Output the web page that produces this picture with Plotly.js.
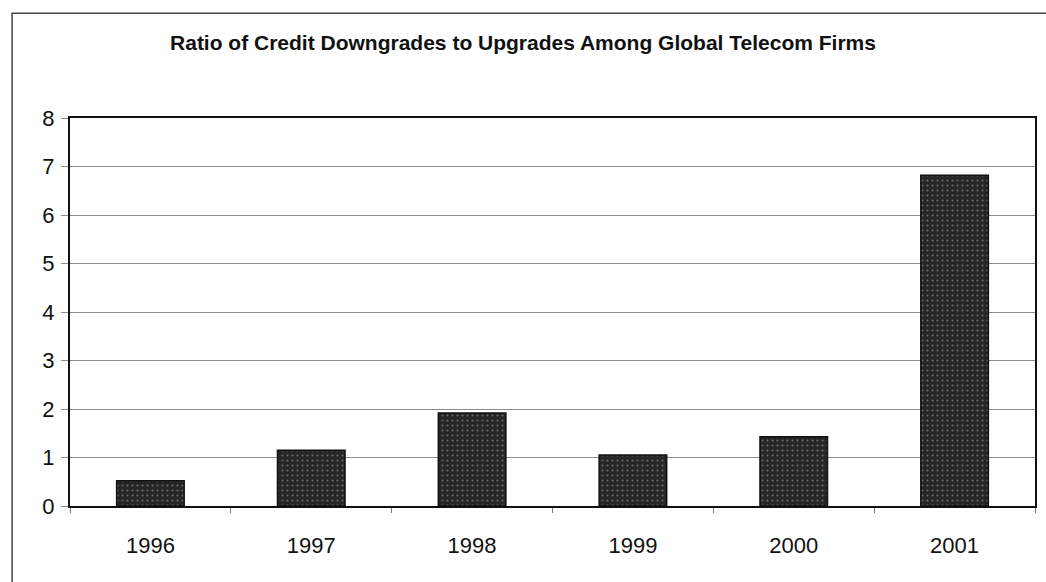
<!DOCTYPE html>
<html>
<head>
<meta charset="utf-8">
<script src="https://cdn.plot.ly/plotly-3.0.1.min.js"></script>
<style>
  html, body { margin: 0; padding: 0; background: #ffffff; }
  #chart { width: 1046px; height: 582px; }
</style>
</head>
<body>
<div id="chart"></div>
<script>
// Data
const years = ["1996", "1997", "1998", "1999", "2000", "2001"];
const ratios = [0.52, 1.15, 1.92, 1.05, 1.43, 6.82];
const yTicks = [0, 1, 2, 3, 4, 5, 6, 7, 8];
const chartTitle = "Ratio of Credit Downgrades to Upgrades Among Global Telecom Firms";

const fontFamily = "'Liberation Sans', Arial, sans-serif";

const trace = {
  type: "bar",
  x: years,
  y: ratios,
  marker: {
    color: "#2a2a2a",
    line: { color: "#111111", width: 1.5 },
    pattern: { shape: ".", fgcolor: "#6a6a6a", bgcolor: "#262626", size: 5, solidity: 0.15 }
  },
  hoverinfo: "x+y"
};

const layout = {
  width: 1046,
  height: 582,
  margin: { l: 70, r: 11, t: 118, b: 76, pad: 0 },
  paper_bgcolor: "#ffffff",
  plot_bgcolor: "#ffffff",
  bargap: 0.58,
  showlegend: false,
  title: {
    text: "<b>" + chartTitle + "</b>",
    font: { family: fontFamily, size: 21, color: "#111111" },
    x: 0.5,
    xanchor: "center",
    y: 1 - 43 / 582,
    yanchor: "middle",
    xref: "container",
    yref: "container"
  },
  xaxis: {
    type: "category",
    showgrid: false,
    showline: true,
    linecolor: "#111111",
    linewidth: 2,
    mirror: true,
    ticks: "outside",
    tickson: "boundaries",
    ticklen: 5,
    tickcolor: "#777777",
    tickwidth: 1,
    ticklabelstandoff: 19,
    tickfont: { family: fontFamily, size: 22, color: "#111111" }
  },
  yaxis: {
    range: [0, 8],
    tickvals: yTicks,
    ticktext: yTicks.map(String),
    showgrid: true,
    gridcolor: "#8a8a8a",
    gridwidth: 1,
    zeroline: false,
    showline: true,
    linecolor: "#111111",
    linewidth: 2,
    mirror: true,
    ticks: "outside",
    ticklen: 7,
    tickcolor: "#8a8a8a",
    tickwidth: 1,
    ticklabelstandoff: 2,
    tickfont: { family: fontFamily, size: 22, color: "#111111" }
  },
  shapes: [
    {
      type: "rect",
      xref: "paper", yref: "paper",
      x0: -0.06, x1: 1.02,
      y0: -0.25, y1: 1.27,
      line: { color: "#444444", width: 1.5 },
      fillcolor: "rgba(0,0,0,0)",
      layer: "below"
    }
  ]
};

Plotly.newPlot("chart", [trace], layout, { displayModeBar: false, staticPlot: true });
</script>
</body>
</html>
